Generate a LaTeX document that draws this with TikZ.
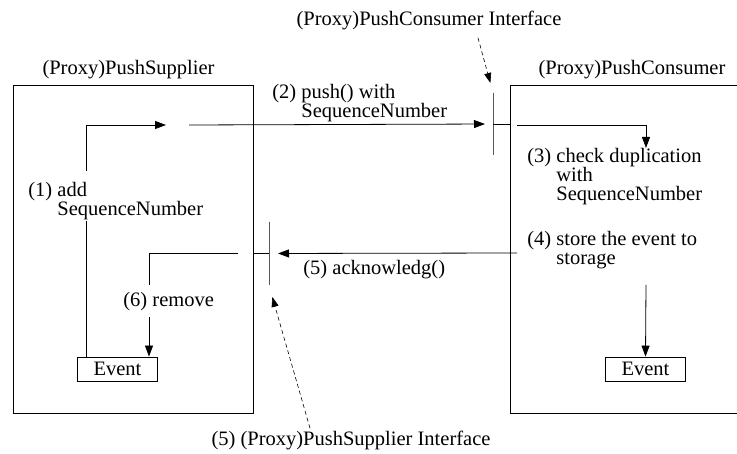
\documentclass[tikz,border=0pt]{standalone}
\usepackage{fontspec}
\setmainfont{Liberation Serif}
\usetikzlibrary{arrows.meta}
\usetikzlibrary{calc}

\begin{document}
\begin{tikzpicture}[x=1pt,y=-1pt,line width=0.8pt,
    every node/.style={font=\fontsize{20.5}{19}\selectfont,inner sep=0pt},
    tip/.style={-{Triangle[length=11pt,width=8pt]}},
    iface/.style={dashed,line width=0.6pt,dash pattern=on 4pt off 3pt,-{Triangle[length=10pt,width=7pt]}},
    objbox/.style={draw,minimum width=240pt,minimum height=328pt},
    evbox/.style={draw,minimum width=80pt,minimum height=24pt},
    bar/.style={draw,minimum width=0pt,minimum height=62pt},
    step lbl/.style={align=left,anchor=north west}]

	\useasboundingbox (0,0) rectangle (737,454);

	% the two objects
	\node[objbox] (sup) at (133,249) {};
	\node[objbox] (con) at (630,249) {};
	\node (supname) at (128.5,70) {(Proxy)PushSupplier};
	\node (conname) at (632,70) {(Proxy)PushConsumer};

	\node[evbox] (evS) at (117.5,369) {Event};
	\node[evbox] (evC) at (645.5,369) {Event};

	% interfaces
	\node[bar] (cbar) at (493,124) {};
	\node[bar,minimum height=63pt] (sbar) at (269,253.5) {};
	\node (ciface) at (429,20) {(Proxy)PushConsumer Interface};
	\node (siface) at (351,440) {(5) (Proxy)PushSupplier Interface};
	\draw[iface,shorten >=10pt] ([xshift=49pt,yshift=-8pt]ciface.south) -- (cbar.north);
	\draw[iface,shorten >=12pt] ([xshift=-41pt,yshift=2pt]siface.north) -- (sbar.south);

	% steps
	\node[step lbl] (add) at (28,182) {(1) add\\\hphantom{(1)~}SequenceNumber};
	\node[step lbl] (push) at (272,84) {(2) push() with\\\hphantom{(2)~}SequenceNumber};
	\node[step lbl] (check) at (527,148) {(3) check duplication\\\hphantom{(3)~}with\\\hphantom{(3)~}SequenceNumber};
	\node[step lbl] (store) at (527,231) {(4) store the event to\\\hphantom{(4)~}storage};
	\node[step lbl] (ack) at (303,260) {(5) acknowledg()};
	\node[step lbl] (rmv) at (123,292) {(6) remove};

	\coordinate (addbot) at (86,221);
	\coordinate (addtop) at (86,171);
	\coordinate (pushin) at (166,125);
	\coordinate (pushout) at (189,125);
	\coordinate (chkin) at (517,125);
	\coordinate (chk) at (646,148);
	\coordinate (storout) at (517,253);
	\coordinate (ackin) at (238,253);
	\coordinate (rmvtop) at (149,285);
	\coordinate (rmvbot) at (149,317);
	\coordinate (stordown) at (646,285);

	\draw (addbot |- evS.north) -- (addbot);
	\draw[tip] (addtop) |- (pushin);
	\draw[tip,shorten >=8pt] (pushout) -- (cbar.center);
	\draw (cbar.center) -- (cbar.center -| con.west);
	\draw[tip] (chkin) -| (chk);

	\draw[tip,shorten >=9pt] (storout) -- (sbar.center);
	\draw (sbar.center) -- (sbar.center -| sup.east);
	\draw (ackin) -| (rmvtop);
	\draw[tip] (rmvbot) -- (rmvbot |- evS.north);
	\draw[tip] (stordown) -- (evC.north);

\end{tikzpicture}
\end{document}
